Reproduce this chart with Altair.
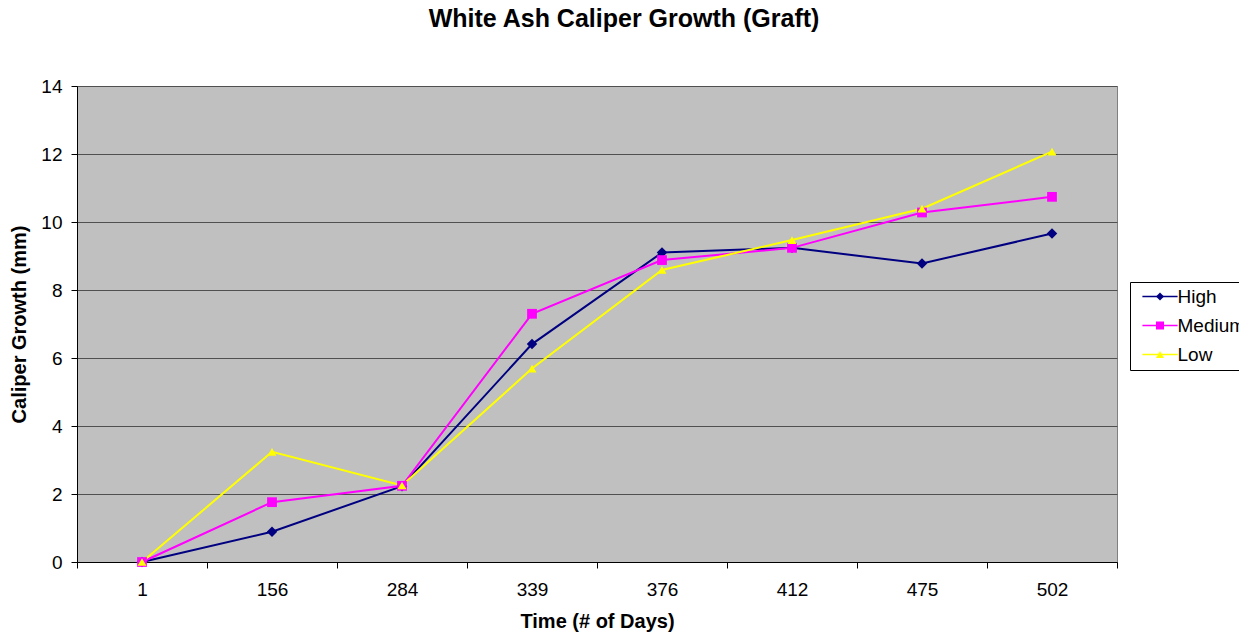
import altair as alt
import pandas as pd

days = ["1", "156", "284", "339", "376", "412", "475", "502"]
series_names = ["High", "Medium", "Low"]
high = [0, 0.89, 2.23, 6.41, 9.10, 9.24, 8.78, 9.66]
medium = [0, 1.76, 2.24, 7.30, 8.88, 9.24, 10.28, 10.74]
low = [0, 3.24, 2.25, 5.69, 8.59, 9.47, 10.39, 12.07]
colors = ["#000080", "#FF00FF", "#FFFF00"]
shapes = ["diamond", "square", "triangle-up"]
marker_sizes = [110, 80, 110]

rows = []
for name, vals in zip(series_names, [high, medium, low]):
    for i, (d, v) in enumerate(zip(days, vals)):
        rows.append({"series": name, "day": d, "value": v, "order": i})
df = pd.DataFrame(rows)

FONT = "Liberation Sans"

x = alt.X(
    "day:O",
    sort=days,
    scale=alt.Scale(type="band", paddingInner=0, paddingOuter=0),
    bandPosition=0.5,
    axis=alt.Axis(
        title="Time (# of Days)",
        labelAngle=0,
        tickBand="extent",
        grid=False,
        domainColor="black",
        tickColor="black",
        tickSize=6,
        labelPadding=12,
        labelFontSize=19,
        labelFont=FONT,
        labelColor="black",
        titleFont=FONT,
        titleFontSize=20,
        titleFontWeight="bold",
        titleColor="black",
        titlePadding=12,
    ),
)
y = alt.Y(
    "value:Q",
    scale=alt.Scale(domain=[0, 14], nice=False),
    axis=alt.Axis(
        title="Caliper Growth (mm)",
        values=[0, 2, 4, 6, 8, 10, 12, 14],
        grid=True,
        gridColor="#505050",
        gridWidth=1,
        domainColor="black",
        tickColor="black",
        tickSize=6,
        labelPadding=9,
        labelFontSize=19,
        labelFont=FONT,
        labelColor="black",
        titleFont=FONT,
        titleFontSize=20,
        titleFontWeight="bold",
        titleColor="black",
        titlePadding=11,
    ),
)

common = dict(
    orient="none",
    legendX=1053,
    legendY=196,
    title=None,
    padding=5,
    symbolSize=64,
    symbolOffset=15.5,
    labelOffset=8,
    labelFontSize=19,
    labelFont=FONT,
    rowPadding=9,
)

# legend A: the line segment of each legend entry (labels hidden)
leg_lines = alt.Legend(
    symbolType="M-4.4,0H4.4",
    symbolStrokeWidth=1.5,
    labelOpacity=0,
    **common,
)
# legend B: markers, labels and frame
leg_marks = alt.Legend(
    strokeColor="black",
    labelColor="black",
    **common,
)

cscale = alt.Scale(domain=series_names, range=colors)

base = alt.Chart(df)

lines = base.mark_line(strokeWidth=2).encode(
    x=x,
    y=y,
    color=alt.Color("series:N", scale=cscale, legend=leg_lines),
    order="order:Q",
)

points = base.mark_point(filled=True, opacity=1).encode(
    x=x,
    y=y,
    color=alt.Color("series:N", scale=cscale, legend=leg_marks),
    shape=alt.Shape("series:N", scale=alt.Scale(domain=series_names, range=shapes), legend=leg_marks),
    size=alt.Size("series:N", scale=alt.Scale(domain=series_names, range=marker_sizes), legend=None),
)

chart = (
    alt.layer(lines, points)
    .resolve_legend(color="independent", shape="independent")
    .properties(
        width=1040,
        height=476,
        background="white",
        autosize=alt.AutoSizeParams(type="none"),
        padding={"left": 69, "top": 78, "right": 122, "bottom": 73},
        title=alt.Title(
            "White Ash Caliper Growth (Graft)",
            font=FONT,
            fontSize=25,
            fontWeight="bold",
            color="black",
            anchor="middle",
            dx=27,
            offset=25,
            baseline="alphabetic",
        ),
    )
    .configure_view(fill="#C0C0C0", stroke="#808080", strokeWidth=1)
)

chart.save("out.html", embed_options={"renderer": "svg", "actions": False})
